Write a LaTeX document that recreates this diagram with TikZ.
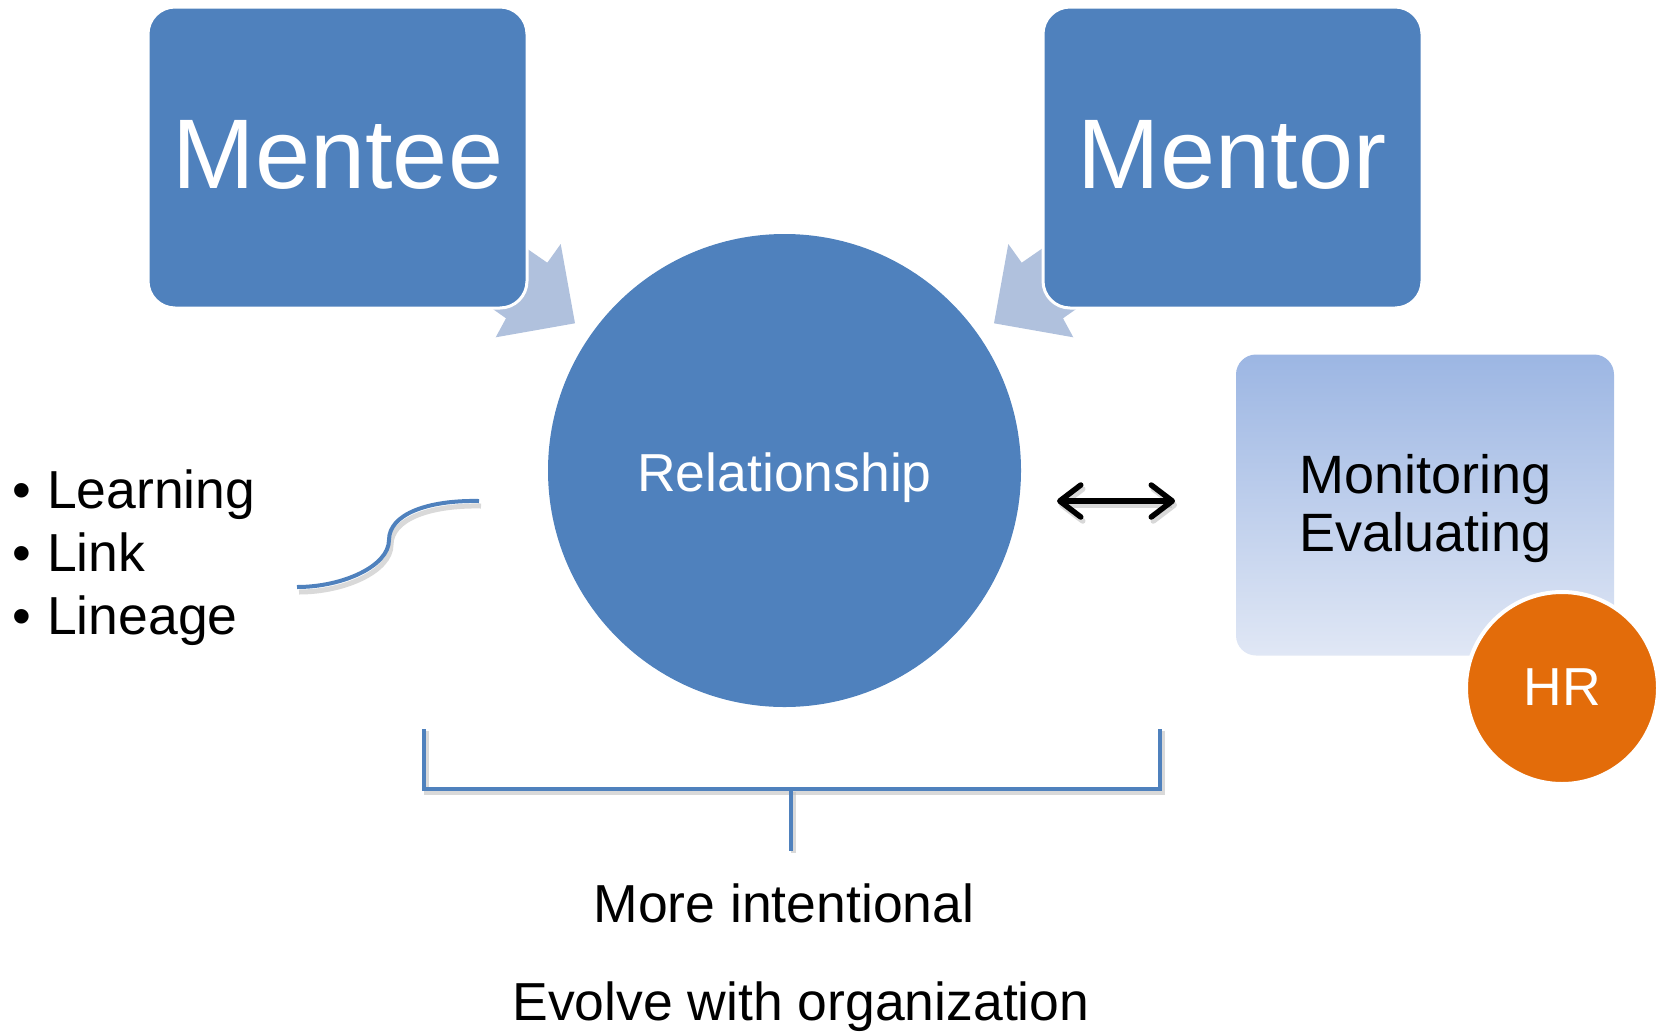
\documentclass[tikz,border=0pt]{standalone}
\usepackage{fontspec}
\setmainfont{Liberation Sans}
\usetikzlibrary{arrows.meta}
\definecolor{accblue}{HTML}{4F81BD}
\definecolor{palearrow}{HTML}{B0C1DD}
\definecolor{hrorange}{HTML}{E36C0A}
\definecolor{gradtop}{HTML}{9CB6E3}
\definecolor{gradbot}{HTML}{E0E7F5}
\tikzset{
  bluebox/.style={fill=accblue, draw=white, line width=3pt, rounded corners=27pt, minimum width=379pt, minimum height=301pt, inner sep=0pt},
  bigtxt/.style={text=white, anchor=base, font=\fontsize{99}{99}\selectfont, inner sep=0pt},
  midtxt/.style={anchor=base, font=\fontsize{53.5}{53.5}\selectfont, inner sep=0pt},
  conv/.style={fill=palearrow},
  blueline/.style={draw=accblue, line width=4pt},
  shadowline/.style={draw=black!25, line width=5pt, opacity=0.6},
  barbs/.style={line width=5.5pt, {Straight Barb[length=21pt,width=32pt,round]}-{Straight Barb[length=21pt,width=32pt,round]}},
}
\begin{document}
\begin{tikzpicture}[x=1pt,y=-1pt]
\useasboundingbox (0,0) rectangle (1662,1031);
% converging arrows
\fill[conv] (477,214) -- (547.3,262.7) -- (560.7,244) -- (575,323.3) -- (495.7,337.3) -- (506,318.3) -- (436,269) -- cycle;
\fill[conv] (1092,214) -- (1021.7,262.7) -- (1008.3,244) -- (994,323.3) -- (1073.3,337.3) -- (1063,318.3) -- (1133,269) -- cycle;
% boxes
\node[bluebox] (mentee) at (337.5,157.5) {};
\node[bluebox] (mentor) at (1232.5,157.5) {};
\node[bigtxt] (menteetxt) at (338,188) {Mentee};
\node[bigtxt] (mentortxt) at (1232,188) {Mentor};
% central circle
\node[circle, fill=accblue, minimum size=473pt, inner sep=0pt] (rel) at (784.5,470.5) {};
\node[midtxt, text=white] (reltxt) at (784.5,491) {Relationship};
% monitoring box
\node[rounded corners=20pt, top color=gradtop, bottom color=gradbot, minimum width=378pt, minimum height=301pt, inner sep=0pt] (mon) at (1425,505) {};
\node[midtxt, font=\fontsize{54}{54}\selectfont] (montxt) at (1425.5,493) {Monitoring};
\node[midtxt, font=\fontsize{54}{54}\selectfont] (evaltxt) at (1425.5,551) {Evaluating};
% HR circle
\node[circle, fill=hrorange, draw=white, line width=4pt, minimum size=192pt, inner sep=0pt] (hr) at (1562,688) {};
\node[midtxt, text=white] (hrtxt) at (1562,705) {HR};
% double arrow
\coordinate (dl) at (1057,501);
\coordinate (dr) at (1175,501);
\draw[black!30, opacity=0.5, barbs] ([shift={(2,4)}]dl) -- ([shift={(2,4)}]dr);
\draw[black, barbs] (dl) -- (dr);
% bullets
\node[midtxt, anchor=base] (d1) at (22,508) {\textbullet};
\node[midtxt, anchor=base west] (b1) at (47,508) {Learning};
\node[midtxt, anchor=base] (d2) at (22,571) {\textbullet};
\node[midtxt, anchor=base west] (b2) at (47,571) {Link};
\node[midtxt, anchor=base] (d3) at (22,634) {\textbullet};
\node[midtxt, anchor=base west] (b3) at (47,634) {Lineage};
% curve
\coordinate (c1) at (479,501);
\coordinate (c2) at (297,587);
\draw[shadowline] ([shift={(2,5)}]c1) .. controls (430,505) and (391,519) .. (391,545) .. controls (391,571) and (345,592) .. ([shift={(2,5)}]c2);
\draw[blueline] (c1) .. controls (428,500) and (389,514) .. (389,540) .. controls (389,566) and (343,587) .. (c2);
% bracket
\coordinate (bl) at (424,729);
\coordinate (br) at (1160,729);
\coordinate (bs) at (791,851);
\draw[shadowline] (426,731) -- (426,792) -- (1162,792) -- (1162,731);
\draw[shadowline] (793,792) -- (793,853);
\draw[blueline] (bl) -- (bl |- 0,789) -- (br |- 0,789) -- (br);
\draw[blueline] (bs |- 0,789) -- (bs);
% bottom texts
\node[midtxt] (more) at (784,922) {More intentional};
\node[midtxt] (evolve) at (801,1020) {Evolve with organization};
\end{tikzpicture}
\end{document}
